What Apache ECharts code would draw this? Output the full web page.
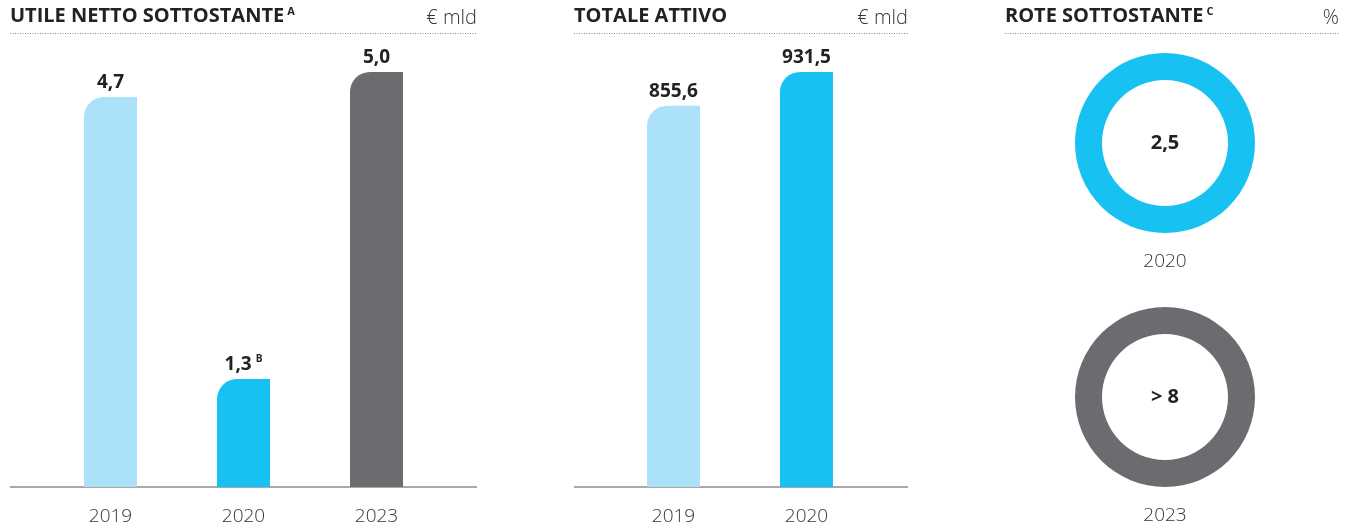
<!DOCTYPE html>
<html>
<head>
<meta charset="utf-8">
<script src="https://cdn.jsdelivr.net/npm/echarts@6/dist/echarts.min.js"></script>
<style>
  html, body { margin: 0; padding: 0; background: #fff; }
  #chart { width: 1354px; height: 526px; }
</style>
</head>
<body>
<div id="chart"></div>
<script>
// Utile netto sottostante (€ mld)
const utileYears = ['2019', '2020', '2023'];
const utileValues = [4.7, 1.3, 5.0];
const utileNotes = ['', 'B', ''];

// Totale attivo (€ mld)
const attivoYears = ['2019', '2020'];
const attivoValues = [855.6, 931.5];

// RoTE sottostante (%)
const roteYears = ['2020', '2023'];
const roteValues = [2.5, 8];
const roteLabels = ['2,5', '> 8'];

const LIGHT = '#abe1f9';
const CYAN = '#17c1f1';
const GREY = '#6b6c70';
const utileColors = [LIGHT, CYAN, GREY];
const attivoColors = [LIGHT, CYAN];
const roteColors = [CYAN, GREY];

const FONT = '"Open Sans", "Noto Sans", sans-serif';
const fmt = v => String(v.toFixed(1)).replace('.', ',');

const chart = echarts.init(document.getElementById('chart'), null, { renderer: 'canvas' });

// panel frames: [left, right]
const panels = [[10, 477], [574, 908], [1005, 1339]];

const titleRich = {
  t: { fontFamily: FONT, fontWeight: 'bold', fontSize: 20, color: '#222' },
  sup: { fontFamily: FONT, fontWeight: 'bold', fontSize: 11, color: '#222', verticalAlign: 'top', padding: [0, 0, 10, 3] }
};

const titles = [
  { text: '{t|UTILE NETTO SOTTOSTANTE}{sup|A}', left: panels[0][0] },
  { text: '{t|TOTALE ATTIVO}', left: panels[1][0] },
  { text: '{t|ROTE SOTTOSTANTE}{sup|C}', left: panels[2][0] }
].map(t => ({ text: t.text, left: t.left, top: 6, padding: 0, textStyle: { rich: titleRich } }));

const units = ['€ mld', '€ mld', '%'];

const graphic = [];
panels.forEach((p, i) => {
  graphic.push({
    type: 'text', right: 1354 - p[1], top: 8,
    style: { text: units[i], font: '300 20px ' + FONT, fill: '#333' }
  });
  graphic.push({
    type: 'line', shape: { x1: p[0], y1: 33.5, x2: p[1], y2: 33.5 },
    style: { stroke: '#888', lineWidth: 1, lineDash: [1, 1.5] }
  });
});
// baselines of the two bar panels
[0, 1].forEach(i => {
  graphic.push({
    type: 'line', shape: { x1: panels[i][0], y1: 487, x2: panels[i][1], y2: 487 },
    style: { stroke: '#8c8c8c', lineWidth: 1.5 }
  });
});
// year captions under the rings
const ringCenters = [[1165, 143], [1165, 397]];
roteYears.forEach((y, i) => {
  graphic.push({
    type: 'text', x: ringCenters[i][0], y: ringCenters[i][1] + 119,
    style: { text: y, font: '300 19px ' + FONT, fill: '#333', align: 'center', verticalAlign: 'middle' }
  });
});

const barLabel = (notes) => ({
  show: true, position: 'top', distance: 5,
  formatter: p => '{v|' + fmt(p.value) + '}' + (notes && notes[p.dataIndex] ? '{sup|' + notes[p.dataIndex] + '}' : ''),
  rich: {
    v: { fontFamily: FONT, fontWeight: 'bold', fontSize: 19, color: '#222' },
    sup: { fontFamily: FONT, fontWeight: 'bold', fontSize: 10, color: '#222', verticalAlign: 'top', padding: [0, 0, 10, 4] }
  }
});

const xAxisCommon = {
  type: 'category',
  axisLine: { show: false }, axisTick: { show: false },
  axisLabel: { fontFamily: FONT, fontSize: 19, fontWeight: 300, color: '#333', margin: 20 }
};
const yAxisCommon = { type: 'value', min: 0, show: false, splitLine: { show: false } };

const option = {
  animation: false,
  backgroundColor: '#fff',
  title: titles,
  graphic: graphic,
  grid: [
    { left: 44, width: 399, top: 72, height: 415 },
    { left: 607, width: 266, top: 72, height: 415 }
  ],
  xAxis: [
    Object.assign({ gridIndex: 0, data: utileYears }, xAxisCommon),
    Object.assign({ gridIndex: 1, data: attivoYears }, xAxisCommon)
  ],
  yAxis: [
    Object.assign({ gridIndex: 0, max: 5.0 }, yAxisCommon),
    Object.assign({ gridIndex: 1, max: 931.5 }, yAxisCommon)
  ],
  series: [
    {
      type: 'bar', xAxisIndex: 0, yAxisIndex: 0, barWidth: 53, silent: true,
      data: utileValues.map((v, i) => ({ value: v, itemStyle: { color: utileColors[i] } })),
      itemStyle: { borderRadius: [20, 0, 0, 0] },
      label: barLabel(utileNotes)
    },
    {
      type: 'bar', xAxisIndex: 1, yAxisIndex: 1, barWidth: 53, silent: true,
      data: attivoValues.map((v, i) => ({ value: v, itemStyle: { color: attivoColors[i] } })),
      itemStyle: { borderRadius: [20, 0, 0, 0] },
      label: barLabel(null)
    }
  ].concat(roteValues.map((v, i) => ({
    type: 'pie', center: ringCenters[i], radius: [63, 90], silent: true,
    startAngle: 90,
    data: [{ value: v, name: roteYears[i], itemStyle: { color: roteColors[i] } }],
    label: {
      show: true, position: 'center', formatter: roteLabels[i],
      fontFamily: FONT, fontWeight: 'bold', fontSize: 20, color: '#222'
    },
    labelLine: { show: false }
  })))
};

chart.setOption(option);
</script>
</body>
</html>
